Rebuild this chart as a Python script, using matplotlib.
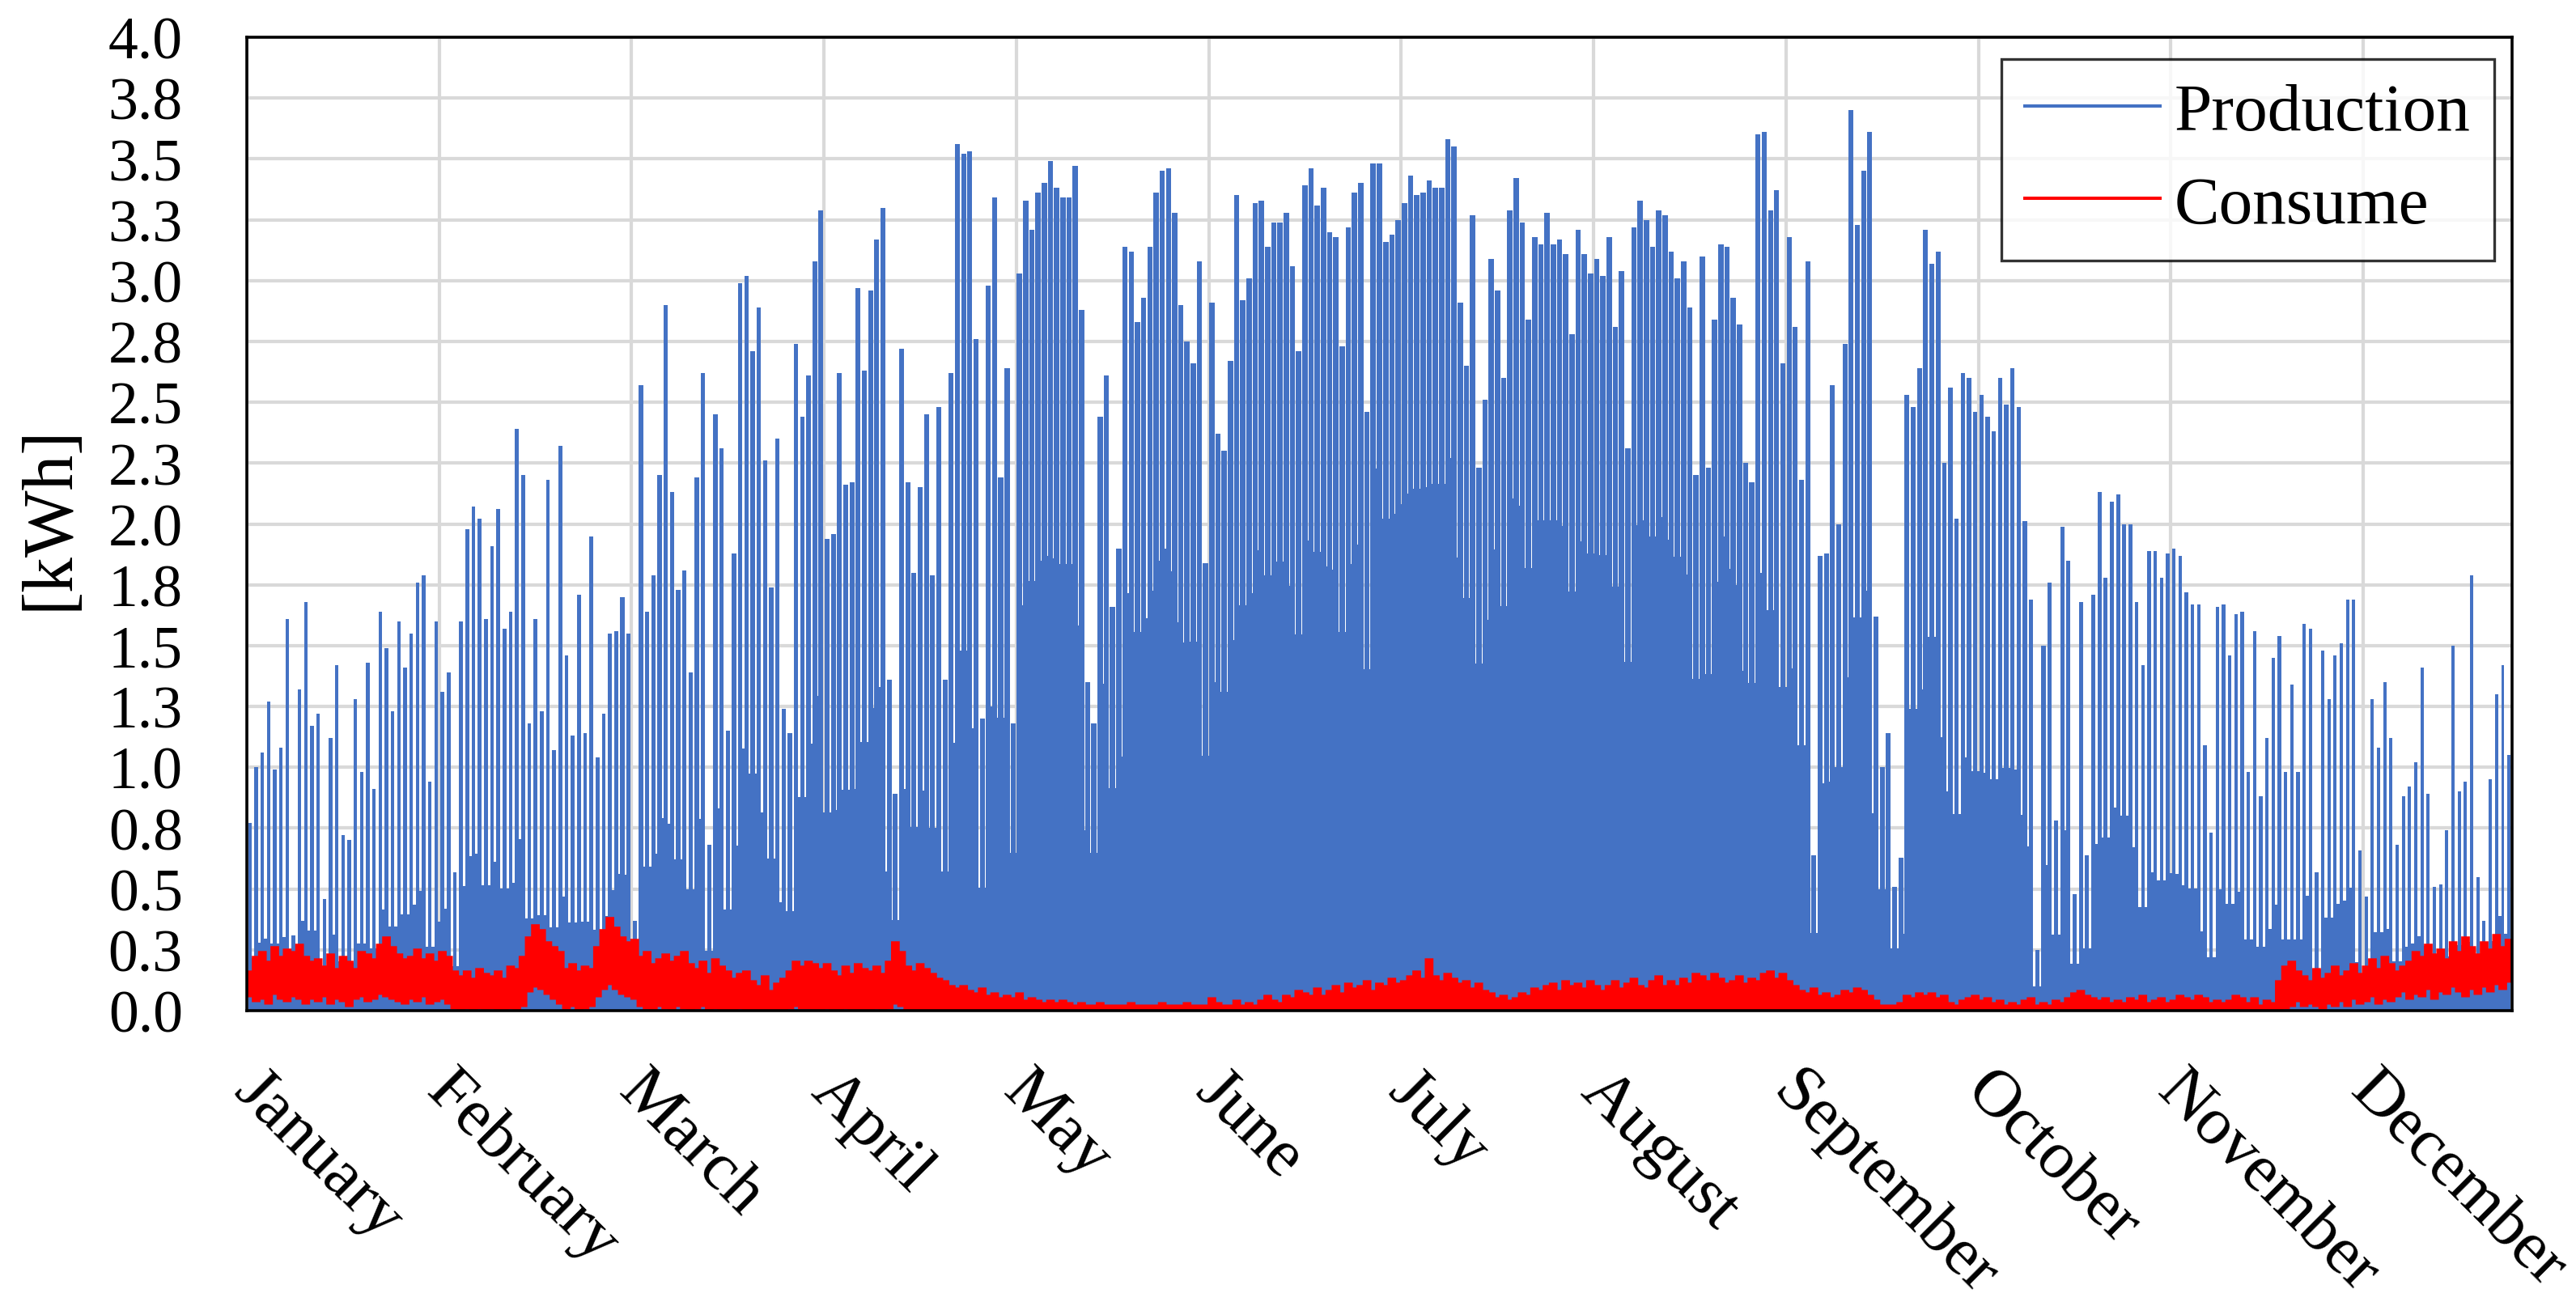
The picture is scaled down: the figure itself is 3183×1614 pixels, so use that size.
import numpy as np
import matplotlib
matplotlib.use("Agg")
import matplotlib.pyplot as plt
from matplotlib.lines import Line2D
from matplotlib.transforms import ScaledTranslation

# ---------------- data ----------------
month_labels = ["January", "February", "March", "April", "May", "June", "July",
                "August", "September", "October", "November", "December"]
label_step_hours = 744          # category-axis label interval of the original chart
month_days = [31, 28, 31, 30, 31, 30, 31, 31, 30, 31, 30, 31]

# daily peak of hourly production [kWh]
production_peak = [
    0.77, 1.00, 1.06, 1.27, 0.99, 1.08, 1.61, 0.31, 1.32, 1.68, 1.17, 1.22, 0.46, 1.12, 1.42, 0.72,
    0.70, 1.28, 0.98, 1.43, 0.91, 1.64, 1.49, 1.23, 1.60, 1.41, 1.55, 1.76, 1.79, 0.94, 1.60, 1.31,
    1.39, 0.57, 1.60, 1.98, 2.07, 2.02, 1.61, 1.91, 2.06, 1.57, 1.64, 2.39, 2.20, 1.18, 1.61, 1.23,
    2.18, 1.07, 2.32, 1.46, 1.13, 1.71, 1.14, 1.95, 1.04, 1.22, 1.55, 1.56, 1.70, 1.55, 0.37, 2.57,
    1.64, 1.79, 2.20, 2.90, 2.13, 1.73, 1.81, 1.39, 2.19, 2.62, 0.68, 2.45, 2.31, 1.15, 1.88, 2.99,
    3.02, 2.71, 2.89, 2.26, 1.74, 2.35, 1.24, 1.14, 2.74, 2.44, 2.61, 3.08,
    3.29, 1.94, 1.96, 2.62, 2.16, 2.17, 2.97, 2.63, 2.96, 3.17, 3.30, 1.36, 0.89, 2.72, 2.17, 1.80,
    2.15, 2.45, 1.79, 2.48, 1.36, 2.62, 3.56, 3.52, 3.53, 2.76, 1.20, 2.98, 3.34, 2.19, 2.64, 1.18,
    3.03, 3.33, 3.21, 3.36, 3.40, 3.49, 3.38, 3.34, 3.34, 3.47, 2.88, 1.35, 1.18, 2.44, 2.61, 1.66,
    1.90, 3.14, 3.12, 2.83, 2.93, 3.14, 3.36, 3.45, 3.46, 3.28, 2.90, 2.75, 2.66, 3.08, 1.84, 2.91,
    2.37, 2.30, 2.67, 3.35, 2.92, 3.01, 3.32, 3.33, 3.14, 3.24, 3.24, 3.28, 3.06, 2.71, 3.39, 3.46,
    3.31, 3.38, 3.20, 3.18, 2.73, 3.22, 3.36, 3.40, 2.46, 3.48, 3.48,
    3.16, 3.19, 3.25, 3.32, 3.43, 3.35, 3.36, 3.41, 3.38, 3.38, 3.58, 3.55, 2.91, 2.65, 3.27, 2.23,
    2.51, 3.09, 2.96, 2.60, 3.29, 3.42, 3.24, 2.84, 3.18, 3.15, 3.28, 3.15, 3.17, 3.11, 2.78, 3.21,
    3.11, 3.03, 3.09, 3.02, 3.18, 2.81, 3.04, 2.31, 3.22, 3.33, 3.25, 3.14, 3.29, 3.27, 3.12, 3.01,
    3.08, 2.89, 2.20, 3.10, 2.23, 2.84, 3.15, 3.14, 2.93, 2.82, 2.25, 2.17, 3.60, 3.61, 3.29, 3.37,
    2.66, 3.18, 2.81, 2.18, 3.08, 0.64, 1.87, 1.88, 2.57, 2.00, 2.74, 3.70, 3.23, 3.45, 3.61, 1.62,
    1.00, 1.14, 0.51, 0.63, 2.53, 2.48, 2.64, 3.21, 3.07, 3.12, 2.25,
    2.56, 2.02, 2.62, 2.60, 2.46, 2.53, 2.44, 2.38, 2.60, 2.49, 2.64, 2.48, 2.01, 1.69, 0.25, 1.50,
    1.76, 0.78, 1.99, 1.85, 0.48, 1.68, 0.64, 1.71, 2.13, 1.78, 2.09, 2.12, 2.00, 2.00, 1.68, 1.42,
    1.89, 1.89, 1.78, 1.88, 1.90, 1.87, 1.72, 1.67, 1.67, 1.09, 0.73, 1.66, 1.67, 1.46, 1.63, 1.64,
    0.98, 1.56, 0.88, 1.12, 1.45, 1.54, 0.98, 1.34, 0.98, 1.59, 1.57, 0.57, 1.48, 1.28, 1.46, 1.51,
    1.69, 1.69, 0.66, 0.47, 1.28, 1.08, 1.35, 1.12, 0.68, 0.88, 0.92, 1.02, 1.41, 0.89, 0.51, 0.52,
    0.74, 1.50, 0.90, 0.94, 1.79, 0.55, 0.37, 0.95, 1.30, 1.42, 1.05,
]

# by month: share of the smaller neighbouring daily peak up to which the
# night gap between two daily spikes is closed (trace looks solid)
production_solid_fraction = [0.28, 0.32, 0.36, 0.42, 0.55, 0.57, 0.64, 0.62, 0.50, 0.40, 0.30, 0.30]

# daily max / min of hourly consumption [kWh]
consume_max = [
    0.16, 0.22, 0.24, 0.20, 0.26, 0.22, 0.25, 0.24, 0.27, 0.22,
    0.20, 0.21, 0.18, 0.23, 0.17, 0.22, 0.20, 0.17, 0.24, 0.23,
    0.21, 0.27, 0.30, 0.26, 0.23, 0.21, 0.22, 0.25, 0.21, 0.23,
    0.20, 0.24, 0.22, 0.16, 0.14, 0.16, 0.13, 0.17, 0.15, 0.14,
    0.16, 0.13, 0.18, 0.17, 0.22, 0.30, 0.35, 0.33, 0.28, 0.26,
    0.24, 0.17, 0.19, 0.16, 0.18, 0.17, 0.26, 0.33, 0.38, 0.34,
    0.30, 0.28, 0.29, 0.22, 0.24, 0.19, 0.21, 0.23, 0.20, 0.22,
    0.24, 0.19, 0.17, 0.20, 0.15, 0.21, 0.18, 0.16, 0.13, 0.15,
    0.16, 0.12, 0.10, 0.14, 0.08, 0.11, 0.13, 0.16, 0.20, 0.18,
    0.20, 0.19, 0.17, 0.19, 0.16, 0.14, 0.18, 0.15, 0.19, 0.17,
    0.16, 0.18, 0.15, 0.20, 0.28, 0.24, 0.18, 0.16, 0.19, 0.17,
    0.15, 0.13, 0.12, 0.10, 0.09, 0.10, 0.08, 0.07, 0.09, 0.06,
    0.07, 0.05, 0.06, 0.05, 0.07, 0.04, 0.05, 0.04, 0.03, 0.04,
    0.03, 0.04, 0.03, 0.02, 0.03, 0.02, 0.02, 0.03, 0.02, 0.02,
    0.02, 0.02, 0.03, 0.02, 0.02, 0.02, 0.02, 0.03, 0.02, 0.02,
    0.02, 0.03, 0.02, 0.02, 0.02, 0.05, 0.03, 0.02, 0.02, 0.04,
    0.02, 0.03, 0.02, 0.04, 0.06, 0.04, 0.03, 0.06, 0.05, 0.08,
    0.07, 0.06, 0.09, 0.06, 0.08, 0.10, 0.07, 0.11, 0.09, 0.10,
    0.12, 0.08, 0.11, 0.10, 0.13, 0.11, 0.12, 0.14, 0.16, 0.13,
    0.21, 0.14, 0.12, 0.15, 0.13, 0.11, 0.12, 0.09, 0.11, 0.08,
    0.07, 0.05, 0.06, 0.04, 0.05, 0.07, 0.06, 0.09, 0.08, 0.10,
    0.11, 0.08, 0.12, 0.10, 0.11, 0.09, 0.12, 0.10, 0.08, 0.10,
    0.12, 0.09, 0.11, 0.13, 0.10, 0.09, 0.12, 0.14, 0.10, 0.12,
    0.10, 0.13, 0.11, 0.15, 0.14, 0.12, 0.15, 0.13, 0.11, 0.12,
    0.14, 0.11, 0.13, 0.12, 0.15, 0.16, 0.13, 0.15, 0.12, 0.10,
    0.08, 0.07, 0.09, 0.06, 0.07, 0.05, 0.06, 0.08, 0.07, 0.09,
    0.08, 0.06, 0.04, 0.02, 0.02, 0.02, 0.03, 0.06, 0.05, 0.07,
    0.06, 0.07, 0.05, 0.06, 0.03, 0.02, 0.04, 0.05, 0.06, 0.04,
    0.05, 0.03, 0.04, 0.02, 0.03, 0.02, 0.04, 0.05, 0.02, 0.03,
    0.02, 0.04, 0.03, 0.05, 0.07, 0.08, 0.06, 0.05, 0.04, 0.05,
    0.03, 0.04, 0.03, 0.05, 0.04, 0.06, 0.03, 0.04, 0.05, 0.03,
    0.04, 0.06, 0.05, 0.04, 0.06, 0.05, 0.03, 0.04, 0.03, 0.04,
    0.06, 0.05, 0.03, 0.05, 0.02, 0.04, 0.03, 0.12, 0.18, 0.20,
    0.16, 0.14, 0.12, 0.17, 0.13, 0.15, 0.18, 0.14, 0.16, 0.19,
    0.15, 0.18, 0.21, 0.17, 0.22, 0.19, 0.16, 0.18, 0.20, 0.24,
    0.22, 0.27, 0.23, 0.25, 0.21, 0.28, 0.24, 0.30, 0.26, 0.23,
    0.28, 0.25, 0.31, 0.26, 0.29,
]
consume_min = [
    0.06, 0.04, 0.05, 0.03, 0.07, 0.05, 0.04, 0.06, 0.05, 0.03,
    0.05, 0.04, 0.06, 0.03, 0.05, 0.04, 0.02, 0.05, 0.06, 0.04,
    0.05, 0.07, 0.06, 0.05, 0.04, 0.03, 0.05, 0.04, 0.06, 0.03,
    0.04, 0.05, 0.03, 0.01, 0.00, 0.01, 0.00, 0.01, 0.00, 0.01,
    0.00, 0.00, 0.01, 0.00, 0.02, 0.08, 0.10, 0.09, 0.07, 0.05,
    0.03, 0.01, 0.02, 0.00, 0.01, 0.02, 0.06, 0.09, 0.11, 0.09,
    0.07, 0.06, 0.05, 0.02, 0.01, 0.00, 0.02, 0.01, 0.00, 0.02,
    0.01, 0.00, 0.01, 0.02, 0.00, 0.01, 0.00, 0.00, 0.00, 0.01,
    0.00, 0.00, 0.00, 0.00, 0.00, 0.00, 0.00, 0.01, 0.02, 0.01,
    0.01, 0.00, 0.00, 0.01, 0.00, 0.00, 0.01, 0.00, 0.00, 0.00,
    0.00, 0.01, 0.00, 0.01, 0.03, 0.02, 0.00, 0.00, 0.00, 0.00,
] + [0.00] * 218 + [
    0.01, 0.02, 0.04, 0.02, 0.03, 0.02, 0.01, 0.03, 0.02, 0.04,
    0.02, 0.05, 0.03, 0.04, 0.06, 0.03, 0.05, 0.04, 0.06, 0.08,
    0.05, 0.07, 0.06, 0.09, 0.05, 0.08, 0.07, 0.10, 0.08, 0.06,
    0.09, 0.07, 0.10, 0.08, 0.11, 0.09, 0.12,
]

y_ticks = [0.0, 0.25, 0.5, 0.75, 1.0, 1.25, 1.5, 1.75, 2.0, 2.25, 2.5, 2.75,
           3.0, 3.25, 3.5, 3.75, 4.0]
y_tick_labels = ["0.0", "0.3", "0.5", "0.8", "1.0", "1.3", "1.5", "1.8", "2.0", "2.3",
                 "2.5", "2.8", "3.0", "3.3", "3.5", "3.8", "4.0"]

# ---------------- styling ----------------
BLUE = "#4472C4"
RED = "#FF0000"
GRID = "#D9D9D9"
FONT = ["Liberation Serif", "DejaVu Serif"]
# drawn width of one daily spike, as share of a day, per month (longer days -> wider)
SPIKE_SHARE = [0.54, 0.62, 0.72, 0.80, 0.85, 0.87, 0.87, 0.86, 0.80, 0.66, 0.55, 0.52]
plt.rcParams["font.family"] = FONT

W, H, DPI = 3183, 1615, 100
fig = plt.figure(figsize=(W / DPI, H / DPI), dpi=DPI)
left, right, top, bottom = 305, 3104, 47, 1250
ax = fig.add_axes([left / W, 1 - bottom / H, (right - left) / W, (bottom - top) / H])

n_days = len(production_peak)
peak = np.array(production_peak)
day_centers = (np.arange(n_days) + 0.5) * 24.0
day_edges = np.arange(n_days + 1) * 24.0
share = np.repeat(SPIKE_SHARE, month_days)
frac = np.repeat(production_solid_fraction, month_days)[:-1]
gap_floor = frac * np.minimum(peak[:-1], peak[1:])
cmax = np.array(consume_max)
cmin = np.array(consume_min)

# production: one spike per day, night gaps closed up to gap_floor
ax.bar(day_centers, peak, width=24 * share, color=BLUE, linewidth=0, zorder=2)
ax.bar(day_edges[1:-1], gap_floor, width=24 * (1 - share[:-1]) + 1.5, color=BLUE,
       linewidth=0, zorder=2)
# consumption band
ax.stairs(cmax, day_edges, baseline=cmin, fill=True, color=RED, linewidth=0, zorder=3)
ax.stairs(cmax, day_edges, baseline=cmin, fill=False, color=RED, linewidth=2.2, zorder=3)

# axes
ax.set_xlim(0, n_days * 24)
ax.set_ylim(0, 4.0)
ax.set_yticks(y_ticks)
ax.set_yticklabels(y_tick_labels)
x_ticks = np.arange(len(month_labels)) * label_step_hours
ax.set_xticks(x_ticks)
ax.set_xticklabels(month_labels)
ax.tick_params(axis="both", length=0, labelsize=53)
ax.tick_params(axis="y", pad=57)
ax.tick_params(axis="x", pad=0)
offset = ScaledTranslation(16 / 72, -44 / 72, fig.dpi_scale_trans)
for lab in ax.get_xticklabels():
    lab.set_rotation(-45)
    lab.set_ha("left")
    lab.set_va("top")
    lab.set_rotation_mode("anchor")
    lab.set_fontsize(60)
    lab.set_transform(lab.get_transform() + offset)

ax.grid(True, color=GRID, linewidth=3.0)
ax.set_axisbelow(True)
for s in ax.spines.values():
    s.set_color("black")
    s.set_linewidth(2.6)
    s.set_zorder(5)

fig.text(62 / W, 1 - 640 / H, "[kWh]", rotation=90, ha="center", va="center", fontsize=63)

handles = [Line2D([], [], color=BLUE, linewidth=2.9),
           Line2D([], [], color=RED, linewidth=2.9)]
leg = ax.legend(handles, ["Production", "Consume"], loc="upper right",
                bbox_to_anchor=(3082 / W, 1 - 74 / H), bbox_transform=fig.transFigure,
                fontsize=60, frameon=True, fancybox=False, borderaxespad=0,
                handlelength=2.0, handletextpad=0.22, labelspacing=0.45, borderpad=0.35)
leg.get_frame().set_edgecolor("black")
leg.get_frame().set_linewidth(2.4)
leg.set_zorder(10)

fig.savefig("out.png", dpi=DPI)
